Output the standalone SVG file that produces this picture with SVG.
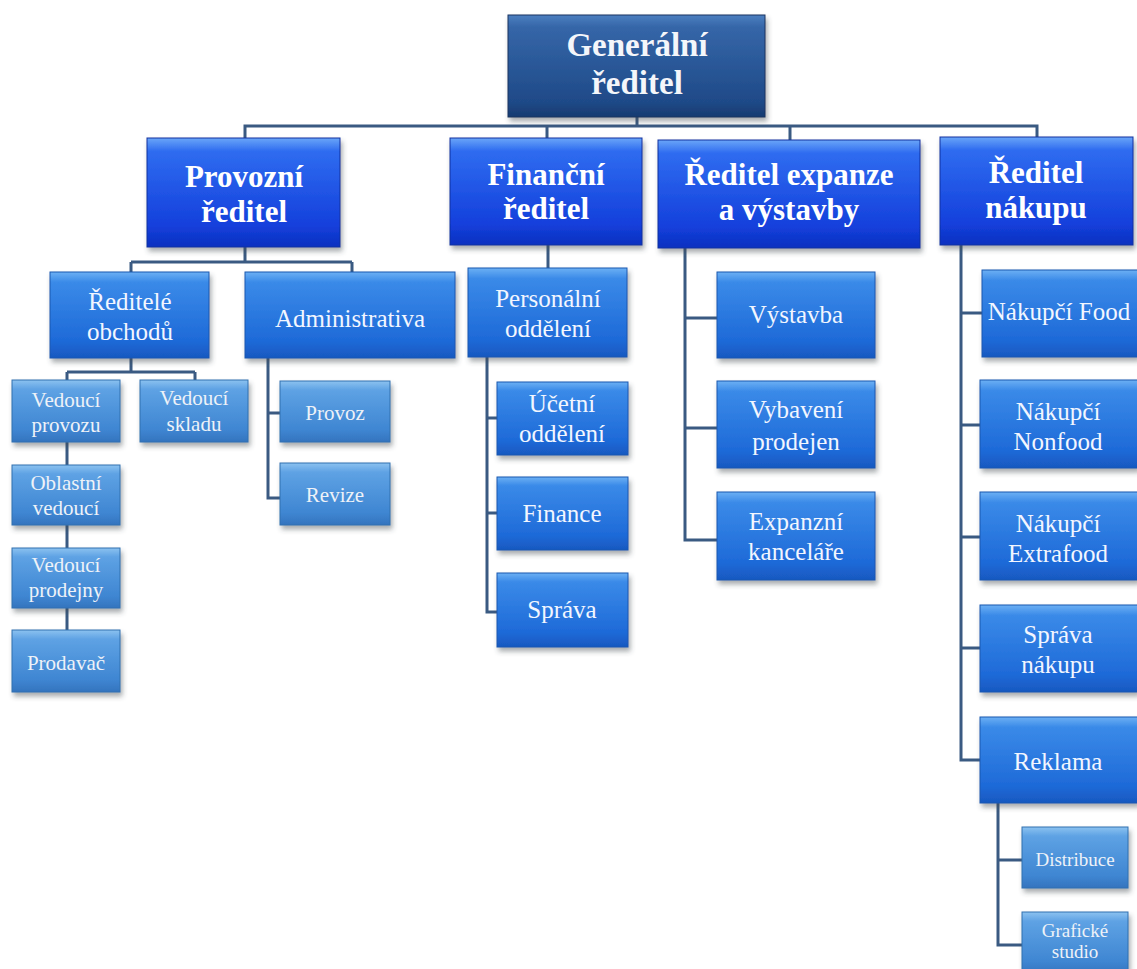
<svg xmlns="http://www.w3.org/2000/svg" width="1137" height="969" viewBox="0 0 1137 969">
<defs>
<linearGradient id="g1" x1="0" y1="0" x2="0" y2="1">
<stop offset="0" stop-color="#4c7fc0"/><stop offset="0.12" stop-color="#3566a8"/><stop offset="0.85" stop-color="#1f4a88"/><stop offset="1" stop-color="#163a70"/>
</linearGradient>
<linearGradient id="g2" x1="0" y1="0" x2="0" y2="1">
<stop offset="0" stop-color="#6aa6f8"/><stop offset="0.12" stop-color="#2f6cf0"/><stop offset="0.8" stop-color="#1440dc"/><stop offset="1" stop-color="#0c30c0"/>
</linearGradient>
<linearGradient id="g3" x1="0" y1="0" x2="0" y2="1">
<stop offset="0" stop-color="#6cb0f4"/><stop offset="0.12" stop-color="#3a8ae8"/><stop offset="0.8" stop-color="#1e6ad8"/><stop offset="1" stop-color="#1858c0"/>
</linearGradient>
<linearGradient id="g4" x1="0" y1="0" x2="0" y2="1">
<stop offset="0" stop-color="#8cc2f0"/><stop offset="0.15" stop-color="#5ea2e4"/><stop offset="0.8" stop-color="#3f86d2"/><stop offset="1" stop-color="#3474be"/>
</linearGradient>
<filter id="sh" x="-10%" y="-10%" width="125%" height="135%">
<feDropShadow dx="2" dy="4" stdDeviation="2.5" flood-color="#404850" flood-opacity="0.45"/>
</filter>
</defs>
<style>
.b1{fill:url(#g1);stroke:#1a3560;stroke-width:1;filter:url(#sh)}
.b2{fill:url(#g2);stroke:#1030a0;stroke-width:1;filter:url(#sh)}
.b3{fill:url(#g3);stroke:#1a58b0;stroke-width:1;filter:url(#sh)}
.b4{fill:url(#g4);stroke:#3070b0;stroke-width:1;filter:url(#sh)}
text{font-family:"Liberation Serif","Times New Roman",serif;text-anchor:middle}
.t1{font-size:33px;font-weight:bold;fill:#f4f6fa}
.t2{font-size:31px;font-weight:bold;fill:#ffffff}
.t3{font-size:25px;fill:#f2f6ff}
.t4{font-size:21px;fill:#eef2f8}
.t5{font-size:19px;fill:#eef2f8}
.c{fill:none;stroke:#3a5a82;stroke-width:3}
</style>
<rect width="1137" height="969" fill="#ffffff"/>
<g id="connectors">
<path class="c" d="M637 117V126M245 138V126H1037V137M547 126V138M790 126V140"/>
<path class="c" d="M245 247V262M131 262H352M131 262V272M352 262V272"/>
<path class="c" d="M131 358V372M67 372H195M67 372V380M195 372V380M67 442V465M67 525V548M67 608V630"/>
<path class="c" d="M268 358V498H280M268 413H280"/>
<path class="c" d="M548 245V268M487 357V612H497M487 418H497M487 513H497"/>
<path class="c" d="M685 248V540H717M685 318H717M685 428H717"/>
<path class="c" d="M961 245V760H980M961 313H982M961 425H980M961 537H980M961 648H980"/>
<path class="c" d="M998 803V945H1022M998 860H1022"/>
</g>
<g id="generalni"><rect class="b1" x="508" y="15" width="257" height="102"/><text class="t1" x="637" y="56">Generální</text><text class="t1" x="637" y="94">ředitel</text></g>
<g id="provozni"><rect class="b2" x="147" y="138" width="193" height="109"/><text class="t2" x="244" y="187">Provozní</text><text class="t2" x="244" y="222">ředitel</text></g>
<g id="financni"><rect class="b2" x="450" y="138" width="192" height="107"/><text class="t2" x="546" y="185">Finanční</text><text class="t2" x="546" y="219">ředitel</text></g>
<g id="expanze"><rect class="b2" x="658" y="140" width="262" height="108"/><text class="t2" x="789" y="185">Ředitel expanze</text><text class="t2" x="789" y="220">a výstavby</text></g>
<g id="nakupu"><rect class="b2" x="940" y="137" width="193" height="108"/><text class="t2" x="1036" y="183">Ředitel</text><text class="t2" x="1036" y="218">nákupu</text></g>
<g id="reditele-obchodu"><rect class="b3" x="50" y="272" width="159" height="86"/><text class="t3" x="130" y="310">Ředitelé</text><text class="t3" x="130" y="340">obchodů</text></g>
<g id="administrativa"><rect class="b3" x="245" y="272" width="210" height="86"/><text class="t3" x="350" y="327">Administrativa</text></g>
<g id="personalni"><rect class="b3" x="468" y="268" width="159" height="89"/><text class="t3" x="548" y="307">Personální</text><text class="t3" x="548" y="337">oddělení</text></g>
<g id="ucetni"><rect class="b3" x="497" y="382" width="131" height="73"/><text class="t3" x="562" y="412">Účetní</text><text class="t3" x="562" y="442">oddělení</text></g>
<g id="finance"><rect class="b3" x="497" y="477" width="131" height="73"/><text class="t3" x="562" y="522">Finance</text></g>
<g id="sprava"><rect class="b3" x="497" y="573" width="131" height="74"/><text class="t3" x="562" y="618">Správa</text></g>
<g id="vystavba"><rect class="b3" x="717" y="272" width="158" height="86"/><text class="t3" x="796" y="323">Výstavba</text></g>
<g id="vybaveni"><rect class="b3" x="717" y="381" width="158" height="87"/><text class="t3" x="796" y="418">Vybavení</text><text class="t3" x="796" y="450">prodejen</text></g>
<g id="expanzni"><rect class="b3" x="717" y="492" width="158" height="88"/><text class="t3" x="796" y="530">Expanzní</text><text class="t3" x="796" y="560">kanceláře</text></g>
<g id="nakupci-food"><rect class="b3" x="982" y="270" width="156" height="87"/><text class="t3" x="1059" y="320">Nákupčí Food</text></g>
<g id="nakupci-nonfood"><rect class="b3" x="980" y="380" width="158" height="88"/><text class="t3" x="1058" y="420">Nákupčí</text><text class="t3" x="1058" y="450">Nonfood</text></g>
<g id="nakupci-extrafood"><rect class="b3" x="980" y="492" width="158" height="88"/><text class="t3" x="1058" y="532">Nákupčí</text><text class="t3" x="1058" y="562">Extrafood</text></g>
<g id="sprava-nakupu"><rect class="b3" x="980" y="605" width="158" height="87"/><text class="t3" x="1058" y="643">Správa</text><text class="t3" x="1058" y="673">nákupu</text></g>
<g id="reklama"><rect class="b3" x="980" y="717" width="158" height="86"/><text class="t3" x="1058" y="770">Reklama</text></g>
<g id="vedouci-provozu"><rect class="b4" x="12" y="380" width="108" height="62"/><text class="t4" x="66" y="407">Vedoucí</text><text class="t4" x="66" y="432">provozu</text></g>
<g id="vedouci-skladu"><rect class="b4" x="140" y="380" width="108" height="62"/><text class="t4" x="194" y="405">Vedoucí</text><text class="t4" x="194" y="431">skladu</text></g>
<g id="oblastni"><rect class="b4" x="12" y="465" width="108" height="60"/><text class="t4" x="66" y="490">Oblastní</text><text class="t4" x="66" y="515">vedoucí</text></g>
<g id="vedouci-prodejny"><rect class="b4" x="12" y="548" width="108" height="60"/><text class="t4" x="66" y="572">Vedoucí</text><text class="t4" x="66" y="597">prodejny</text></g>
<g id="prodavac"><rect class="b4" x="12" y="630" width="108" height="62"/><text class="t4" x="66" y="670">Prodavač</text></g>
<g id="provoz"><rect class="b4" x="280" y="381" width="110" height="61"/><text class="t4" x="335" y="420">Provoz</text></g>
<g id="revize"><rect class="b4" x="280" y="463" width="110" height="62"/><text class="t4" x="335" y="502">Revize</text></g>
<g id="distribuce"><rect class="b4" x="1022" y="827" width="106" height="61"/><text class="t5" x="1075" y="866">Distribuce</text></g>
<g id="graficke"><rect class="b4" x="1022" y="912" width="106" height="62"/><text class="t5" x="1075" y="937">Grafické</text><text class="t5" x="1075" y="958">studio</text></g>
</svg>
